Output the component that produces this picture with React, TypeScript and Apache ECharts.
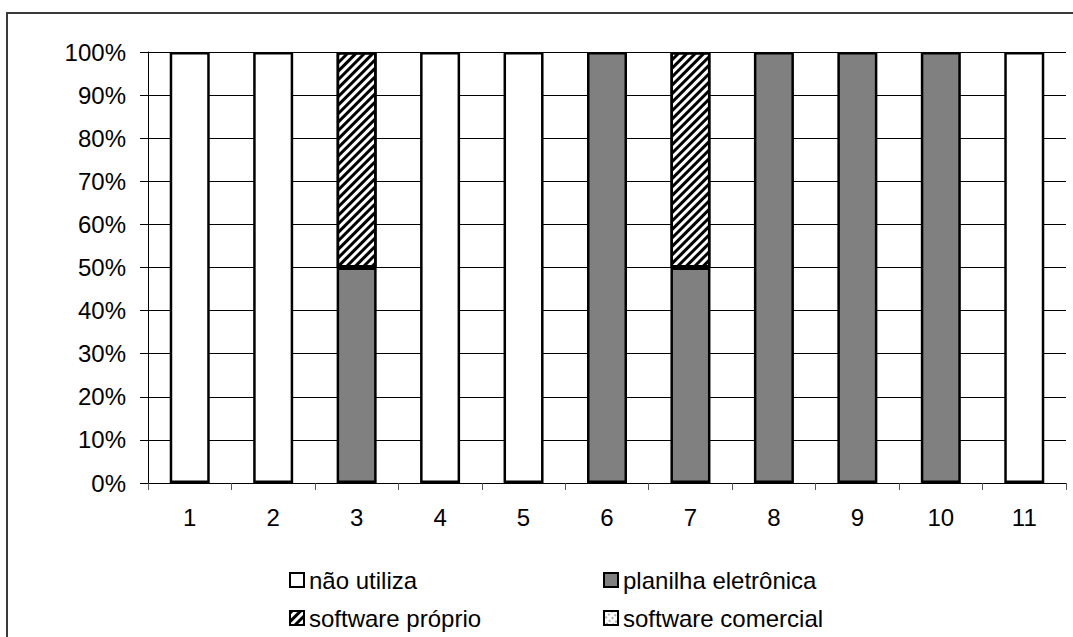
import React, { useEffect, useRef } from "react";
import * as echarts from "echarts";

// Stacked 100% columns: share of each tool per respondent
const categories = ["1", "2", "3", "4", "5", "6", "7", "8", "9", "10", "11"];
const naoUtiliza = [100, 100, 0, 100, 100, 0, 0, 0, 0, 0, 100];
const planilhaEletronica = [0, 0, 50, 0, 0, 100, 50, 100, 100, 100, 0];
const softwareProprio = [0, 0, 50, 0, 0, 0, 50, 0, 0, 0, 0];
const softwareComercial = [0, 0, 0, 0, 0, 0, 0, 0, 0, 0, 0];
const yTicks = [0, 10, 20, 30, 40, 50, 60, 70, 80, 90, 100];

const FONT = "'Liberation Sans', Arial, sans-serif";

// zero segments are left out so they don't draw stray border lines
const seg = (arr: number[]) => arr.map((v) => (v === 0 ? "-" : v));

export default function App() {
  const ref = useRef<HTMLDivElement>(null);

  useEffect(() => {
    if (!ref.current) return;
    const chart = echarts.init(ref.current, undefined, { renderer: "svg" });

    const border = { borderColor: "#000", borderWidth: 2.5 };
    const legendBase = {
      orient: "horizontal" as const,
      padding: 0,
      itemWidth: 14,
      itemHeight: 14,
      icon: "rect",
      itemStyle: { borderColor: "#000", borderWidth: 2 },
      textStyle: { fontFamily: FONT, fontSize: 24, color: "#000" },
    };

    chart.setOption({
      animation: false,
      backgroundColor: "#fff",
      graphic: [
        {
          type: "rect",
          shape: { x: 7, y: 13, width: 1200, height: 800 },
          style: { fill: "none", stroke: "#3a3a3a", lineWidth: 2 },
          silent: true,
        },
      ],
      grid: { left: 148, right: 7, top: 52, bottom: 154, containLabel: false },
      legend: [
        { ...legendBase, data: ["não utiliza"], left: 289, top: 568 },
        { ...legendBase, data: ["planilha eletrônica"], left: 603, top: 568 },
        { ...legendBase, data: ["software próprio"], left: 289, top: 606 },
        { ...legendBase, data: ["software comercial"], left: 603, top: 606 },
      ],
      xAxis: {
        type: "category",
        data: categories,
        boundaryGap: true,
        axisLine: { show: true, lineStyle: { color: "#000", width: 1 } },
        axisTick: { show: true, length: 7, lineStyle: { color: "#555", width: 1 } },
        axisLabel: { fontFamily: FONT, fontSize: 24, color: "#000", margin: 22 },
        splitLine: { show: false },
      },
      yAxis: {
        type: "value",
        min: yTicks[0],
        max: yTicks[yTicks.length - 1],
        interval: 10,
        axisLine: { show: true, lineStyle: { color: "#000", width: 1 } },
        axisTick: { show: true, length: 8, lineStyle: { color: "#000", width: 1 } },
        axisLabel: {
          fontFamily: FONT,
          fontSize: 24,
          color: "#000",
          margin: 22,
          formatter: "{value}%",
        },
        splitLine: { show: true, lineStyle: { color: "#000", width: 1 } },
      },
      series: [
        {
          name: "não utiliza",
          type: "bar",
          stack: "total",
          barWidth: 40,
          data: seg(naoUtiliza),
          itemStyle: { color: "#fff", ...border },
        },
        {
          name: "planilha eletrônica",
          type: "bar",
          stack: "total",
          barWidth: 40,
          data: seg(planilhaEletronica),
          itemStyle: { color: "#808080", ...border },
        },
        {
          name: "software próprio",
          type: "bar",
          stack: "total",
          barWidth: 40,
          data: seg(softwareProprio),
          itemStyle: {
            color: "#fff",
            ...border,
            decal: {
              symbol: "rect",
              color: "#000",
              dashArrayX: [1, 0],
              dashArrayY: [3, 3],
              rotation: -Math.PI / 4,
            },
          },
        },
        {
          name: "software comercial",
          type: "bar",
          stack: "total",
          barWidth: 40,
          data: seg(softwareComercial),
          itemStyle: {
            color: "#fff",
            ...border,
            decal: {
              symbol: "rect",
              color: "#b0b0b0",
              dashArrayX: [2, 2],
              dashArrayY: [2, 3],
              rotation: -Math.PI / 4,
            },
          },
        },
      ],
    });

    return () => chart.dispose();
  }, []);

  return (
    <div
      ref={ref}
      style={{ position: "fixed", left: 0, top: 0, width: 1073, height: 637 }}
    />
  );
}
